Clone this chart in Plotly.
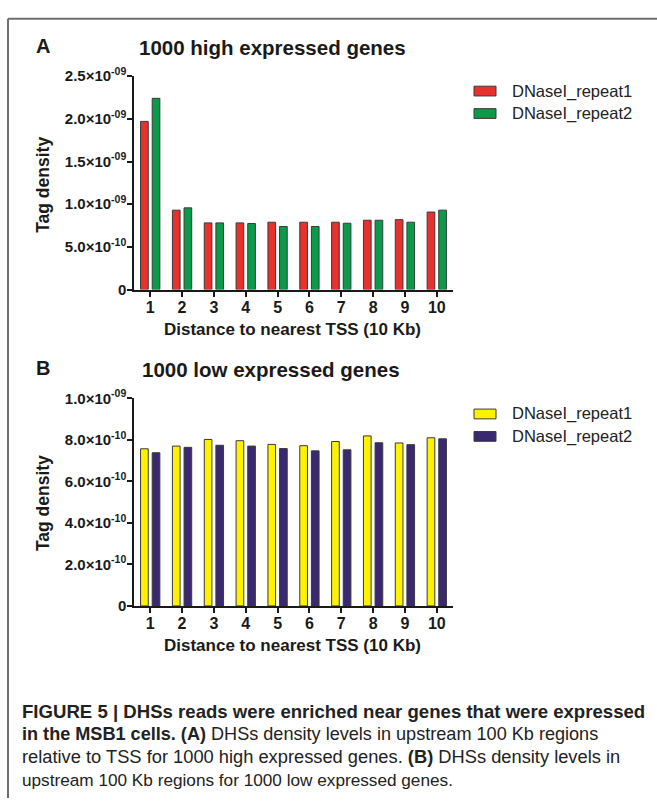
import plotly.graph_objects as go

# ---- data ----
distance_bins = [1, 2, 3, 4, 5, 6, 7, 8, 9, 10]
distance_labels = ["1", "2", "3", "4", "5", "6", "7", "8", "9", "10"]

high_repeat1 = [1.97e-9, 0.93e-9, 0.781e-9, 0.781e-9, 0.789e-9, 0.789e-9, 0.789e-9, 0.812e-9, 0.819e-9, 0.908e-9]
high_repeat2 = [2.24e-9, 0.957e-9, 0.781e-9, 0.774e-9, 0.739e-9, 0.739e-9, 0.777e-9, 0.812e-9, 0.789e-9, 0.93e-9]

low_repeat1 = [7.57e-10, 7.70e-10, 8.02e-10, 7.96e-10, 7.78e-10, 7.72e-10, 7.92e-10, 8.19e-10, 7.85e-10, 8.10e-10]
low_repeat2 = [7.38e-10, 7.64e-10, 7.74e-10, 7.70e-10, 7.58e-10, 7.47e-10, 7.52e-10, 7.86e-10, 7.77e-10, 8.05e-10]

series_names = ["DNaseI_repeat1", "DNaseI_repeat2"]

high_tickvals = [0, 5e-10, 1.0e-9, 1.5e-9, 2.0e-9, 2.5e-9]
high_ticktext = ["0", "5.0×10<sup>-10</sup>", "1.0×10<sup>-09</sup>", "1.5×10<sup>-09</sup>",
                 "2.0×10<sup>-09</sup>", "2.5×10<sup>-09</sup>"]
low_tickvals = [0, 2e-10, 4e-10, 6e-10, 8e-10, 1.0e-9]
low_ticktext = ["0", "2.0×10<sup>-10</sup>", "4.0×10<sup>-10</sup>", "6.0×10<sup>-10</sup>",
                "8.0×10<sup>-10</sup>", "1.0×10<sup>-09</sup>"]

# ---- styling ----
W, H = 657, 806
FONT = "Liberation Sans, Arial, sans-serif"
RED, GREEN = "#e8302d", "#0b9a47"
YELLOW, PURPLE = "#fff200", "#3a2870"
EDGE = "#3a3a3a"
INK = "#1a1a1a"


def px(x):
    return x / W


def py(y):
    return 1 - y / H


fig = go.Figure()

panels = [
    dict(ax="", top=66.7, bottom=285.3, rng=[0, 2.5e-9], vals=high_tickvals, text=high_ticktext,
         series=[high_repeat1, high_repeat2], colors=[RED, GREEN]),
    dict(ax="2", top=396.7, bottom=609.3, rng=[0, 1.0e-9], vals=low_tickvals, text=low_ticktext,
         series=[low_repeat1, low_repeat2], colors=[YELLOW, PURPLE]),
]

x_left, x_right = 134.3, 452.7

for p in panels:
    for name, vals, col in zip(series_names, p["series"], p["colors"]):
        fig.add_trace(go.Bar(
            x=distance_bins, y=vals, name=name,
            xaxis="x" + p["ax"], yaxis="y" + p["ax"],
            marker=dict(color=col, line=dict(color=EDGE, width=1)),
            showlegend=False,
        ))

axis_common = dict(showline=True, linecolor=INK, linewidth=2, ticks="outside",
                   ticklen=5, tickwidth=2, tickcolor=INK, showgrid=False, zeroline=False)

layout = dict(
    width=W, height=H, margin=dict(l=0, r=0, t=0, b=0),
    paper_bgcolor="white", plot_bgcolor="white",
    barmode="group", bargap=0.27, bargroupgap=0.34,
)

for p in panels:
    k = p["ax"]
    layout["xaxis" + k] = dict(axis_common, domain=[px(x_left), px(x_right)], range=[0.5, 10.5],
                              tickvals=distance_bins, ticktext=distance_labels,
                              anchor="y" + k, ticklabelstandoff=-3,
                              tickfont=dict(family=FONT, size=16, color=INK, weight="bold"))
    layout["yaxis" + k] = dict(axis_common, domain=[py(p["bottom"]), py(p["top"])], range=p["rng"],
                              tickvals=p["vals"], ticktext=p["text"], anchor="x" + k,
                              ticklabelstandoff=-2,
                              tickfont=dict(family=FONT, size=15, color=INK, weight="bold"))

fig.update_layout(**layout)

annotations = []
shapes = []


def label(x, y, text, size, bold=True, anchor="center", angle=0, color=INK):
    annotations.append(dict(
        x=px(x), y=py(y), xref="paper", yref="paper", text=text, showarrow=False,
        xanchor=anchor, yanchor="middle", textangle=angle,
        font=dict(family=FONT, size=size, color=color, weight="bold" if bold else "normal"),
    ))


# panel letters and titles
label(43, 36, "A", 20)
label(272, 37, "1000 high expressed genes", 20.5)
label(43, 366, "B", 20)
label(271, 367, "1000 low expressed genes", 20.5)

# axis titles
label(292, 326, "Distance to nearest TSS (10 Kb)", 17)
label(292, 650, "Distance to nearest TSS (10 Kb)", 17)
label(43, 178, "Tag density", 17.5, angle=-90)
label(43, 504, "Tag density", 17.5, angle=-90)

# legends
legend_rows = [
    (82, [RED, GREEN]),
    (412.7, [YELLOW, PURPLE]),
]
for y0, cols in legend_rows:
    for i, (name, col) in enumerate(zip(series_names, cols)):
        yc = y0 + i * 23
        shapes.append(dict(type="rect", xref="paper", yref="paper",
                           x0=px(474), x1=px(496), y0=py(yc - 5), y1=py(yc + 5),
                           fillcolor=col, line=dict(color=EDGE, width=1)))
        label(510, yc, name, 16.5, bold=False, anchor="left", color="#222")

# figure frame
shapes.append(dict(type="line", xref="paper", yref="paper", x0=px(8), x1=px(8), y0=py(8), y1=py(806),
                   line=dict(color="#6e6e6e", width=2)))
shapes.append(dict(type="line", xref="paper", yref="paper", x0=px(8), x1=px(657), y0=py(8), y1=py(8),
                   line=dict(color="#6e6e6e", width=2)))

# caption (one annotation per line)
caption_lines = [
    ("<b>FIGURE 5 | DHSs reads were enriched near genes that were expressed</b>", 18.6),
    ("<b>in the MSB1 cells. (A)</b> DHSs density levels in upstream 100 Kb regions", 18.1),
    ("relative to TSS for 1000 high expressed genes. <b>(B)</b> DHSs density levels in", 18.3),
    ("upstream 100 Kb regions for 1000 low expressed genes.", 17.2),
]
for i, (line, size) in enumerate(caption_lines):
    label(20, 717 + i * 23.5, line, size, bold=False, anchor="left", color="#222")

fig.update_layout(annotations=annotations, shapes=shapes)

fig.write_html("out.html")
